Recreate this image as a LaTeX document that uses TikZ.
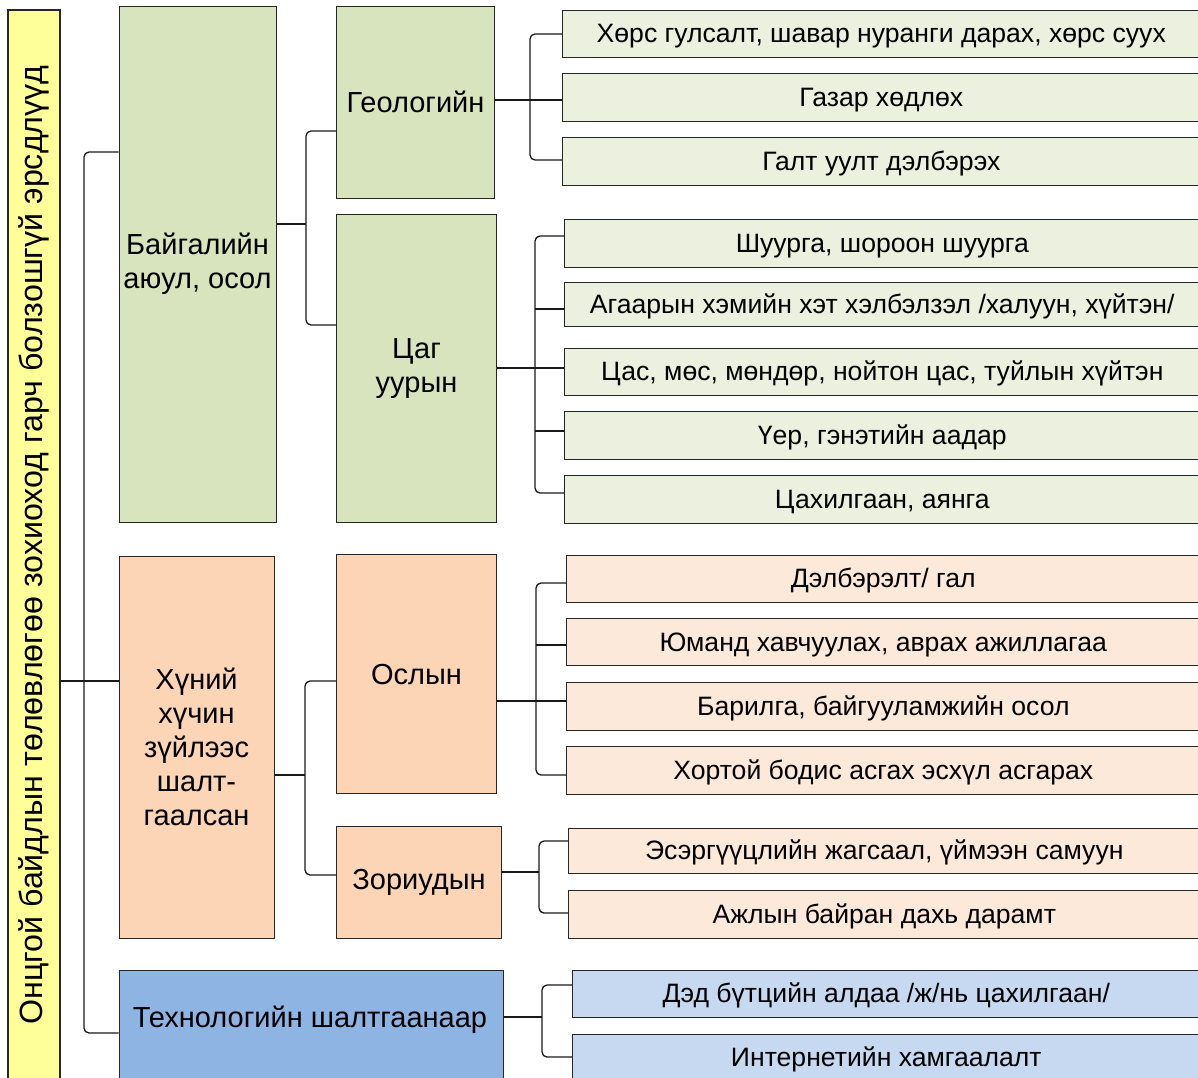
\documentclass[tikz,border=0pt]{standalone}
\usepackage{fontspec}
\setmainfont{Liberation Sans}
\definecolor{gD}{HTML}{D7E4BD}
\definecolor{gL}{HTML}{EBF1DE}
\definecolor{oD}{HTML}{FBD5B5}
\definecolor{oL}{HTML}{FDE9D9}
\definecolor{bD}{HTML}{8EB4E3}
\definecolor{bL}{HTML}{C6D9F1}
\definecolor{yel}{HTML}{FFFF99}
\begin{document}
\begin{tikzpicture}[x=1pt,y=-1pt,
  bx/.style={draw=black!85, line width=1.1pt, inner sep=1pt, anchor=north west, align=center},
  mid/.style={bx, font=\fontsize{29}{34}\selectfont},
  lf/.style={bx, font=\fontsize{26.6}{30}\selectfont, minimum height=47pt, text height=22pt, text depth=4pt},
  conn/.style={line width=1.3pt, draw=black!90},
  br/.style={conn, rounded corners=5pt}]
\useasboundingbox (0,0) rectangle (1198,1077);
\clip (0,0) rectangle (1198,1077);
% root
\node[draw=black!85, line width=1.1pt, fill=yel, rotate=90, minimum width=1070pt, minimum height=52pt, inner sep=0pt,
  font=\fontsize{32.2}{36}\selectfont] (root) at (34,545) {Онцгой байдлын төлөвлөгөө зохиоход гарч болзошгүй эрсдлүүд};
% level 1
\node[mid, fill=gD, minimum width=157pt, minimum height=516pt] (baigal) at (118.5,5.5) {Байгалийн\\аюул, осол};
\node[mid, fill=oD, minimum width=155pt, minimum height=382pt] (hum) at (118.5,555.5) {Хүний\\хүчин\\зүйлээс\\шалт-\\гаалсан};
\node[bx, fill=bD, minimum width=384pt, minimum height=130pt] (tech) at (118.5,969.5) {};
\node[font=\fontsize{29}{34}\selectfont, inner sep=0pt] (techt) at (310,1020) {Технологийн шалтгаанаар};
% level 2
\node[mid, fill=gD, minimum width=158pt, minimum height=192pt] (geo) at (336,5.5) {Геологийн};
\node[mid, fill=gD, minimum width=160pt, minimum height=308pt] (tsag) at (336,213.5) {Цаг\\уурын};
\node[mid, fill=oD, minimum width=160pt, minimum height=239pt] (osl) at (336,554) {Ослын};
\node[mid, fill=oD, minimum width=165pt, minimum height=112pt] (zor) at (336,825.5) {Зориудын};
% leaves geo
\node[lf, fill=gL, minimum width=637.5pt] (g1) at (562,9.5) {Хөрс гулсалт, шавар нуранги дарах, хөрс суух};
\node[lf, fill=gL, minimum width=637.5pt, minimum height=48pt] (g2) at (562,73) {Газар хөдлөх};
\node[lf, fill=gL, minimum width=637.5pt, minimum height=48pt] (g3) at (562,137) {Галт уулт дэлбэрэх};
% leaves tsag
\node[lf, fill=gL, minimum width=635.5pt, minimum height=48pt] (t1) at (564,219) {Шуурга, шороон шуурга};
\node[lf, fill=gL, minimum width=635.5pt, minimum height=44pt] (t2) at (564,281.5) {Агаарын хэмийн хэт хэлбэлзэл /халуун, хүйтэн/};
\node[lf, fill=gL, minimum width=635.5pt] (t3) at (564,347.5) {Цас, мөс, мөндөр, нойтон цас, туйлын хүйтэн};
\node[lf, fill=gL, minimum width=635.5pt, minimum height=48pt] (t4) at (564,411) {Үер, гэнэтийн аадар};
\node[lf, fill=gL, minimum width=635.5pt, minimum height=48pt] (t5) at (564,475) {Цахилгаан, аянга};
% leaves osl
\node[lf, fill=oL, minimum width=633.5pt] (o1) at (566,554.5) {Дэлбэрэлт/ гал};
\node[lf, fill=oL, minimum width=633.5pt] (o2) at (566,618) {Юманд хавчуулах, аврах ажиллагаа};
\node[lf, fill=oL, minimum width=633.5pt, minimum height=48pt] (o3) at (566,681.5) {Барилга, байгууламжийн осол};
\node[lf, fill=oL, minimum width=633.5pt, minimum height=48pt] (o4) at (566,745.5) {Хортой бодис асгах эсхүл асгарах};
% leaves zor
\node[lf, fill=oL, minimum width=631.5pt, minimum height=45pt] (z1) at (568,827.5) {Эсэргүүцлийн жагсаал, үймээн самуун};
\node[lf, fill=oL, minimum width=631.5pt, minimum height=48pt] (z2) at (568,889.5) {Ажлын байран дахь дарамт};
% leaves tech
\node[lf, fill=bL, minimum width=627.5pt] (b1) at (572,969.5) {Дэд бүтцийн алдаа /ж/нь цахилгаан/};
\node[lf, fill=bL, minimum width=627.5pt] (b2) at (572,1033.5) {Интернетийн хамгаалалт};
% trunk
\coordinate (tr) at (84,681);
\draw[conn] (root.south |- tr) -- (hum.west |- tr);
\draw[br] (baigal.west |- 0,152) -- (84,152) -- (84,1033) -- (tech.west |- 0,1033);
% baigal
\draw[conn] (baigal.east |- 0,224) -- (306,224);
\draw[br] (geo.west |- 0,131) -- (306,131) -- (306,325) -- (tsag.west |- 0,325);
% hum
\draw[conn] (hum.east |- 0,775) -- (305,775);
\draw[br] (osl.west |- 0,681) -- (305,681) -- (305,875) -- (zor.west |- 0,875);
% geo
\draw[conn] (geo.east |- 0,100) -- (g2.west |- 0,100);
\draw[br] (g1.west |- 0,34) -- (530,34) -- (530,160) -- (g3.west |- 0,160);
% tsag
\draw[conn] (tsag.east |- 0,368) -- (t3.west |- 0,368);
\draw[br] (t1.west |- 0,236) -- (535,236) -- (535,493) -- (t5.west |- 0,493);
\draw[conn] (535,309) -- (t2.west |- 0,309);
\draw[conn] (535,431) -- (t4.west |- 0,431);
% osl
\draw[conn] (osl.east |- 0,701) -- (o3.west |- 0,701);
\draw[br] (o1.west |- 0,583) -- (536,583) -- (536,775) -- (o4.west |- 0,775);
\draw[conn] (536,645) -- (o2.west |- 0,645);
% zor
\draw[conn] (zor.east |- 0,872) -- (539,872);
\draw[br] (z1.west |- 0,841) -- (539,841) -- (539,913) -- (z2.west |- 0,913);
% tech
\draw[conn] (tech.east |- 0,1017) -- (542,1017);
\draw[br] (b1.west |- 0,985) -- (542,985) -- (542,1057) -- (b2.west |- 0,1057);
\end{tikzpicture}
\end{document}
